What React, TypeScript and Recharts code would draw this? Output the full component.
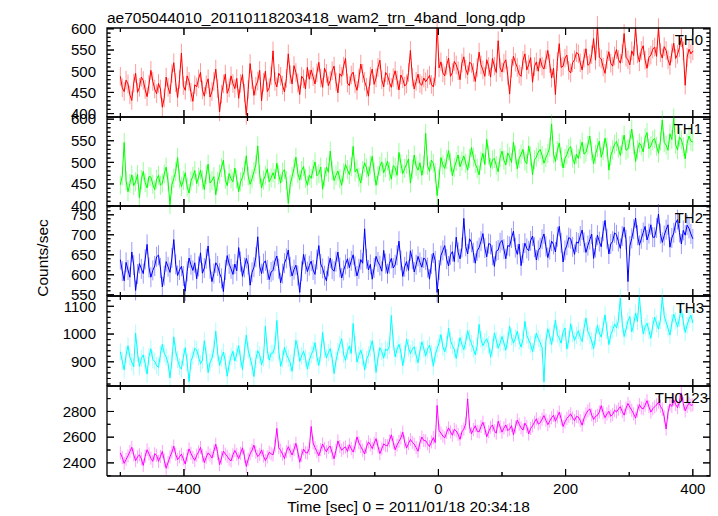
import React from 'react';
import { ComposedChart, Line, Scatter, XAxis, YAxis, ErrorBar } from 'recharts';

// ---------- data ----------
const timeSec = [
  -500, -497, -494, -491, -488, -485, -482, -479, -476, -473, -470, -467, -464, -461, -458, -455, -452, -449, -446, -443,
  -440, -437, -434, -431, -428, -425, -422, -419, -416, -413, -410, -407, -404, -401, -398, -395, -392, -389, -386, -383,
  -380, -377, -374, -371, -368, -365, -362, -359, -356, -353, -350, -347, -344, -341, -338, -335, -332, -329, -326, -323,
  -320, -317, -314, -311, -308, -305, -302, -299, -296, -293, -290, -287, -284, -281, -278, -275, -272, -269, -266, -263,
  -260, -257, -254, -251, -248, -245, -242, -239, -236, -233, -230, -227, -224, -221, -218, -215, -212, -209, -206, -203,
  -200, -197, -194, -191, -188, -185, -182, -179, -176, -173, -170, -167, -164, -161, -158, -155, -152, -149, -146, -143,
  -140, -137, -134, -131, -128, -125, -122, -119, -116, -113, -110, -107, -104, -101, -98, -95, -92, -89, -86, -83,
  -80, -77, -74, -71, -68, -65, -62, -59, -56, -53, -50, -47, -44, -41, -38, -35, -32, -29, -26, -23,
  -20, -17, -14, -11, -8, -5, -2, 1, 4, 7, 10, 13, 16, 19, 22, 25, 28, 31, 34, 37,
  40, 43, 46, 49, 52, 55, 58, 61, 64, 67, 70, 73, 76, 79, 82, 85, 88, 91, 94, 97,
  100, 103, 106, 109, 112, 115, 118, 121, 124, 127, 130, 133, 136, 139, 142, 145, 148, 151, 154, 157,
  160, 163, 166, 169, 172, 175, 178, 181, 184, 187, 190, 193, 196, 199, 202, 205, 208, 211, 214, 217,
  220, 223, 226, 229, 232, 235, 238, 241, 244, 247, 250, 253, 256, 259, 262, 265, 268, 271, 274, 277,
  280, 283, 286, 289, 292, 295, 298, 301, 304, 307, 310, 313, 316, 319, 322, 325, 328, 331, 334, 337,
  340, 343, 346, 349, 352, 355, 358, 361, 364, 367, 370, 373, 376, 379, 382, 385, 388, 391, 394, 397,
  400,
];

const th0 = [
  488, 461, 452, 479, 470, 444, 431, 472, 495, 450, 462, 486, 478, 457, 440, 469, 502, 476, 458, 447,
  471, 458, 415, 437, 486, 462, 447, 494, 520, 473, 438, 481, 543, 466, 455, 489, 476, 450, 429, 468,
  463, 482, 497, 456, 441, 468, 482, 439, 452, 476, 505, 459, 404, 446, 470, 493, 448, 461, 489, 471,
  459, 483, 436, 471, 492, 448, 396, 457, 518, 480, 443, 465, 477, 502, 430, 474, 500, 452, 461, 489,
  548, 476, 463, 495, 488, 467, 451, 483, 541, 492, 470, 513, 497, 472, 445, 488, 482, 458, 509, 481,
  503, 487, 470, 496, 521, 484, 462, 507, 495, 466, 478, 501, 512, 475, 449, 494, 488, 512, 530, 472,
  466, 491, 498, 470, 455, 483, 517, 495, 476, 462, 441, 488, 505, 469, 484, 509, 526, 480, 463, 497,
  490, 474, 462, 485, 501, 479, 456, 491, 482, 465, 470, 497, 549, 486, 458, 476, 493, 471, 467, 484,
  475, 482, 490, 469, 463, 488, 612, 508, 522, 496, 489, 514, 531, 488, 497, 523, 515, 501, 480, 519,
  534, 505, 492, 521, 518, 497, 476, 509, 545, 515, 503, 488, 527, 511, 486, 530, 512, 497, 572, 508,
  498, 519, 527, 490, 446, 507, 535, 521, 509, 493, 488, 526, 541, 503, 516, 532, 474, 511, 522, 500,
  530, 512, 505, 527, 549, 518, 484, 507, 445, 523, 565, 509, 512, 531, 538, 502, 496, 520, 527, 544,
  541, 520, 503, 531, 553, 514, 518, 539, 577, 526, 608, 533, 529, 510, 495, 527, 546, 519, 512, 536,
  551, 528, 519, 542, 589, 533, 527, 515, 548, 537, 604, 541, 522, 549, 560, 526, 507, 533, 538, 552,
  557, 535, 603, 544, 531, 558, 549, 527, 514, 543, 566, 530, 540, 556, 579, 548, 467, 533, 552, 541,
  548,
];

const th1 = [
  448, 469, 546, 458, 432, 451, 471, 446, 455, 472, 418, 460, 479, 453, 441, 467, 466, 449, 437, 461,
  470, 447, 452, 473, 489, 455, 402, 448, 463, 479, 511, 462, 444, 458, 476, 443, 429, 457, 468, 481,
  451, 466, 482, 459, 437, 471, 496, 452, 458, 467, 425, 456, 473, 488, 505, 461, 446, 474, 462, 455,
  487, 461, 432, 455, 466, 480, 515, 468, 449, 462, 478, 495, 538, 472, 441, 459, 470, 485, 455, 464,
  476, 462, 498, 471, 452, 477, 483, 458, 405, 449, 467, 486, 512, 474, 459, 481, 490, 463, 447, 470,
  463, 484, 501, 469, 474, 489, 438, 466, 489, 477, 526, 481, 458, 470, 480, 462, 447, 476, 495, 483,
  472, 490, 537, 478, 485, 466, 452, 481, 499, 487, 468, 494, 514, 478, 447, 469, 491, 501, 476, 488,
  503, 479, 461, 492, 488, 470, 523, 497, 474, 486, 496, 508, 452, 483, 517, 491, 482, 499, 470, 494,
  567, 493, 479, 505, 498, 476, 423, 462, 511, 494, 486, 507, 527, 500, 469, 488, 502, 517, 490, 503,
  515, 498, 482, 509, 534, 512, 497, 486, 471, 503, 521, 495, 553, 517, 488, 506, 509, 493, 478, 511,
  526, 505, 494, 522, 513, 500, 547, 518, 485, 509, 519, 530, 503, 497, 538, 514, 471, 506, 512, 524,
  530, 516, 498, 511, 521, 535, 589, 520, 502, 527, 545, 513, 487, 509, 518, 532, 536, 510, 496, 519,
  509, 531, 547, 519, 523, 540, 561, 526, 497, 518, 534, 549, 512, 527, 556, 535, 482, 515, 529, 542,
  548, 533, 516, 541, 563, 528, 531, 552, 577, 540, 502, 529, 545, 538, 524, 557, 569, 532, 538, 551,
  555, 537, 521, 549, 598, 546, 540, 528, 566, 553, 603, 541, 529, 559, 552, 536, 508, 544, 561, 549,
  547,
];

const th2 = [
  638, 609, 585, 631, 612, 594, 657, 624, 561, 602, 628, 615, 603, 639, 676, 618, 594, 611, 622, 645,
  649, 617, 570, 598, 633, 620, 606, 642, 688, 626, 598, 612, 621, 597, 559, 609, 642, 625, 611, 630,
  590, 621, 655, 604, 617, 640, 672, 615, 583, 603, 630, 622, 604, 591, 558, 612, 648, 627, 615, 601,
  627, 610, 668, 633, 596, 618, 641, 625, 574, 606, 619, 644, 695, 622, 603, 628, 635, 612, 588, 607,
  611, 634, 647, 615, 580, 603, 629, 641, 662, 620, 597, 613, 624, 598, 556, 609, 651, 627, 608, 623,
  634, 612, 601, 638, 673, 627, 616, 598, 585, 621, 642, 614, 609, 633, 657, 618, 592, 611, 626, 640,
  618, 635, 650, 621, 597, 615, 638, 629, 715, 640, 612, 626, 589, 617, 646, 632, 623, 609, 661, 628,
  603, 628, 641, 617, 625, 649, 684, 636, 596, 620, 633, 611, 660, 639, 607, 625, 646, 631, 619, 642,
  637, 618, 589, 627, 654, 635, 556, 612, 648, 661, 673, 639, 622, 650, 658, 633, 694, 656, 640, 668,
  741, 671, 652, 690, 681, 655, 629, 660, 668, 684, 703, 667, 645, 678, 676, 649, 621, 659, 662, 680,
  686, 664, 640, 673, 671, 692, 709, 668, 651, 677, 623, 654, 679, 666, 660, 685, 697, 669, 637, 661,
  668, 689, 702, 671, 643, 663, 684, 676, 657, 695, 721, 680, 632, 661, 674, 693, 690, 670, 651, 682,
  679, 697, 712, 681, 656, 673, 688, 702, 641, 668, 699, 683, 670, 709, 736, 690, 652, 677, 684, 705,
  700, 683, 666, 697, 719, 688, 583, 672, 691, 714, 742, 699, 674, 690, 706, 721, 687, 703, 725, 694,
  694, 717, 752, 703, 681, 698, 713, 725, 669, 692, 705, 729, 738, 706, 677, 711, 699, 724, 716, 702,
  690,
];

const th3 = [
  936, 903, 871, 924, 958, 917, 899, 882, 1003, 931, 884, 912, 925, 893, 856, 919, 947, 908, 902, 886,
  880, 927, 963, 931, 917, 894, 842, 905, 990, 938, 908, 883, 874, 916, 951, 899, 829, 902, 921, 948,
  944, 917, 893, 906, 976, 925, 861, 898, 912, 947, 1010, 931, 887, 914, 935, 902, 848, 890, 919, 938,
  903, 929, 958, 910, 872, 936, 996, 941, 915, 887, 847, 909, 940, 925, 889, 913, 1028, 942, 906, 931,
  931, 957, 1049, 940, 884, 911, 952, 928, 913, 896, 866, 920, 977, 949, 901, 922, 938, 913, 874, 905,
  925, 941, 969, 918, 887, 929, 1006, 945, 914, 933, 948, 912, 858, 904, 937, 961, 983, 927, 905, 938,
  957, 930, 1038, 961, 899, 923, 942, 917, 871, 908, 925, 949, 976, 931, 862, 914, 951, 937, 913, 946,
  940, 958, 1067, 972, 918, 945, 963, 936, 886, 927, 982, 951, 929, 946, 954, 923, 897, 939, 972, 948,
  921, 946, 960, 931, 884, 925, 947, 968, 998, 954, 936, 962, 1021, 977, 959, 944, 912, 951, 987, 963,
  944, 972, 1012, 985, 966, 947, 925, 958, 1035, 981, 958, 973, 983, 962, 917, 950, 1004, 978, 949, 967,
  991, 968, 942, 979, 1028, 990, 967, 985, 1010, 974, 953, 981, 1046, 996, 978, 962, 936, 970, 1003, 984,
  969, 951, 827, 975, 1019, 993, 962, 1004, 1051, 998, 985, 967, 1008, 1022, 946, 980, 1037, 1001, 977, 995,
  1012, 988, 973, 1021, 1058, 1009, 994, 975, 946, 992, 1031, 1003, 989, 1027, 1069, 1014, 962, 998, 1015, 1036,
  1022, 1049, 1130, 1038, 991, 1017, 1047, 1063, 1008, 1034, 1076, 1045, 1136, 1052, 1001, 1026, 1039, 1012, 985, 1030,
  1061, 1037, 1018, 1050, 1134, 1066, 1043, 1021, 996, 1039, 1072, 1048, 1025, 1057, 1089, 1044, 1006, 1032, 1054, 1068,
  1040,
];

const th0123 = [
  2478, 2441, 2396, 2427, 2455, 2489, 2521, 2463, 2417, 2446, 2463, 2432, 2380, 2451, 2502, 2470, 2436, 2412, 2471, 2459,
  2412, 2450, 2489, 2421, 2358, 2404, 2447, 2483, 2530, 2466, 2425, 2447, 2468, 2430, 2391, 2455, 2509, 2474, 2443, 2419,
  2459, 2486, 2520, 2457, 2402, 2444, 2478, 2461, 2437, 2492, 2545, 2473, 2386, 2438, 2491, 2469, 2452, 2428, 2415, 2463,
  2496, 2467, 2433, 2474, 2517, 2452, 2372, 2429, 2470, 2498, 2538, 2481, 2449, 2466, 2501, 2453, 2418, 2447, 2483, 2471,
  2462, 2530, 2668, 2519, 2497, 2468, 2434, 2487, 2526, 2492, 2461, 2503, 2552, 2485, 2405, 2459, 2508, 2481, 2476, 2512,
  2683, 2556, 2519, 2488, 2455, 2503, 2547, 2512, 2486, 2519, 2530, 2477, 2432, 2498, 2571, 2527, 2498, 2515, 2524, 2489,
  2541, 2510, 2484, 2532, 2602, 2556, 2527, 2498, 2469, 2524, 2563, 2540, 2511, 2553, 2589, 2528, 2472, 2509, 2548, 2535,
  2533, 2571, 2618, 2559, 2502, 2538, 2567, 2594, 2639, 2562, 2515, 2551, 2582, 2560, 2546, 2519, 2490, 2557, 2601, 2574,
  2572, 2549, 2527, 2563, 2596, 2558, 2847, 2652, 2631, 2609, 2594, 2637, 2672, 2641, 2615, 2660, 2648, 2622, 2583, 2641,
  2662, 2705, 2898, 2681, 2627, 2659, 2689, 2646, 2641, 2683, 2716, 2667, 2603, 2642, 2677, 2695, 2650, 2631, 2724, 2680,
  2639, 2671, 2695, 2652, 2661, 2690, 2618, 2679, 2734, 2701, 2672, 2655, 2709, 2683, 2625, 2668, 2688, 2717, 2743, 2702,
  2712, 2740, 2768, 2731, 2697, 2725, 2751, 2770, 2724, 2758, 2795, 2742, 2683, 2719, 2746, 2763, 2782, 2750, 2729, 2761,
  2757, 2729, 2693, 2748, 2781, 2805, 2820, 2773, 2738, 2762, 2769, 2796, 2845, 2790, 2752, 2781, 2801, 2763, 2776, 2809,
  2796, 2818, 2837, 2800, 2771, 2826, 2862, 2834, 2809, 2781, 2748, 2805, 2853, 2827, 2820, 2849, 2884, 2836, 2795, 2821,
  2836, 2851, 2872, 2840, 2818, 2759, 2663, 2792, 2857, 2839, 2891, 2854, 2830, 2876, 2944, 2861, 2805, 2838, 2865, 2847,
  2852,
];

const seriesNames = ['TH0', 'TH1', 'TH2', 'TH3', 'TH0123'];
const seriesValues = [th0, th1, th2, th3, th0123];
const rateErrors = [22, 22, 25, 31, 51];

const xMajorTicks = [-400, -200, 0, 200, 400];
const xMinorTicks = [-500, -300, -100, 100, 300];

const yLabels0 = [400, 450, 500, 550, 600];
const yLabels1 = [400, 450, 500, 550, 600];
const yLabels2 = [550, 600, 650, 700, 750];
const yLabels3 = [900, 1000, 1100];
const yLabels4 = [2400, 2600, 2800];
const yLabelSets = [yLabels0, yLabels1, yLabels2, yLabels3, yLabels4];

const titleText = 'ae705044010_20110118203418_wam2_trn_4band_long.qdp';
const yTitle = 'Counts/sec';
const xTitle = 'Time [sec] 0 = 2011/01/18 20:34:18';

// ---------- layout / style ----------
const W = 718;
const H = 516;
const PLOT_LEFT = 107;
const PLOT_RIGHT = 710;
const panelEdges = [28, 117, 206, 296, 386, 476];
const xDomain: [number, number] = [-521, 427];
const yDomains: [number, number][] = [
  [392, 602],
  [399, 605],
  [547, 772],
  [813, 1137],
  [2298, 2998],
];
const minorSteps = [
  { from: 400, to: 600, step: 10 },
  { from: 400, to: 600, step: 10 },
  { from: 550, to: 770, step: 10 },
  { from: 820, to: 1120, step: 20 },
  { from: 2300, to: 2900, step: 100 },
];
const lineColors = ['#ff0000', '#00ff00', '#0000ff', '#00ffff', '#ff00ff'];
const errColors = ['#ff9a9a', '#9aff9a', '#9a9aff', '#a8ffff', '#ffa0ff'];
const labelRightX = [703, 702, 703, 704, 708];
const FONT = '"Liberation Sans", Arial, Helvetica, sans-serif';
const THIN = 0.01;
// sizes of the hidden twin axes; the label axes are pushed outward by these amounts
const TWIN_Y_W = 60;
const TWIN_X_H = 30;

const range = (a: number, b: number, s: number) => {
  const out: number[] = [];
  for (let v = a; v <= b + 1e-9; v += s) out.push(v);
  return out;
};

const fmt = (v: number) => (v < 0 ? '\u2212' + Math.abs(v) : String(v));

const NoTick = () => <g />;

const XLabel = (props: any) => {
  const { x, y, payload } = props;
  return (
    <text x={x} y={y - TWIN_X_H + 18} textAnchor="middle" fontSize={15} fontFamily={FONT} fill="#000">
      {fmt(payload.value)}
    </text>
  );
};

const YLabel = (props: any) => {
  const { x, y, payload } = props;
  return (
    <text x={x + TWIN_Y_W - 11} y={y + 5.3} textAnchor="end" fontSize={15} fontFamily={FONT} fill="#000">
      {payload.value}
    </text>
  );
};

// inward tick mark drawn at a point placed by the chart's scales
const tickPath = (p: any) => {
  const cx = Number(p.cx);
  const cy = Number(p.cy);
  const side = p.payload?.side;
  const len = p.payload?.major ? 7 : side === 'b' || side === 't' ? 4 : 3.5;
  if (side === 'b') return `M${cx},${cy}L${cx},${cy - len}`;
  if (side === 't') return `M${cx},${cy}L${cx},${cy + len}`;
  if (side === 'l') return `M${cx},${cy}L${cx + len},${cy}`;
  return `M${cx},${cy}L${cx - len},${cy}`;
};

const tickDot = (p: any) => (
  <path key={`tk-${p.index}`} d={tickPath(p)} stroke="#000" strokeWidth={1} fill="none" />
);

const Panel = ({ k }: { k: number }) => {
  const top = panelEdges[k];
  const h = panelEdges[k + 1] - top;
  const vals = seriesValues[k];
  const rows = timeSec.map((t, i) => ({ t, v: vals[i], e: rateErrors[k] }));
  const ms = minorSteps[k];
  const labels = yLabelSets[k];
  const yAll = range(ms.from, ms.to, ms.step);
  const yd = yDomains[k];
  const xAll = [...xMinorTicks, ...xMajorTicks];
  const tickRows = [
    ...xAll.map((v) => ({ t: v, y: yd[0], side: 'b', major: xMajorTicks.includes(v) })),
    ...xAll.map((v) => ({ t: v, y: yd[1], side: 't', major: xMajorTicks.includes(v) })),
    ...yAll.map((v) => ({ t: xDomain[0], y: v, side: 'l', major: labels.includes(v) })),
    ...yAll.map((v) => ({ t: xDomain[1], y: v, side: 'r', major: labels.includes(v) })),
  ];
  const frameRows = [
    { t: xDomain[0], y: yd[0] },
    { t: xDomain[1], y: yd[0] },
    { t: xDomain[1], y: yd[1] },
    { t: xDomain[0], y: yd[1] },
    { t: xDomain[0], y: yd[0] },
  ];
  return (
    <div style={{ position: 'absolute', left: 0, top, width: W, height: h }}>
      <ComposedChart width={W} height={h} data={rows} margin={{ top: 0, right: W - PLOT_RIGHT, bottom: 0, left: 0 }}>
        <XAxis
          xAxisId="lab"
          dataKey="t"
          type="number"
          domain={xDomain}
          allowDataOverflow
          interval={0}
          ticks={xMajorTicks}
          height={THIN}
          tickSize={0}
          tickMargin={0}
          axisLine={false}
          tickLine={false}
          tick={k === 4 ? <XLabel /> : <NoTick />}
        />
        <YAxis
          yAxisId="lab"
          type="number"
          domain={yd}
          allowDataOverflow
          interval={0}
          ticks={labels}
          width={PLOT_LEFT}
          tickSize={0}
          tickMargin={0}
          axisLine={false}
          tickLine={false}
          tick={<YLabel />}
        />
        {/* unclipped twin axes (hidden) for the frame and the tick marks */}
        <XAxis xAxisId="fx" dataKey="t" type="number" domain={xDomain} height={TWIN_X_H} hide />
        <YAxis yAxisId="fy" type="number" domain={yd} width={TWIN_Y_W} hide />
        <Line
          xAxisId="lab"
          yAxisId="lab"
          dataKey="v"
          stroke="transparent"
          strokeOpacity={0}
          strokeWidth={0}
          dot={false}
          activeDot={false}
          isAnimationActive={false}
        >
          <ErrorBar dataKey="e" width={0} stroke={errColors[k]} strokeWidth={1} direction="y" isAnimationActive={false} />
        </Line>
        <Line
          xAxisId="lab"
          yAxisId="lab"
          dataKey="v"
          type="linear"
          stroke={lineColors[k]}
          strokeWidth={1}
          dot={false}
          activeDot={false}
          isAnimationActive={false}
        />
        <Line
          xAxisId="fx"
          yAxisId="fy"
          data={frameRows}
          dataKey="y"
          type="linear"
          stroke="#000"
          strokeWidth={1.3}
          dot={false}
          activeDot={false}
          isAnimationActive={false}
        />
        <Line
          xAxisId="fx"
          yAxisId="fy"
          data={tickRows}
          dataKey="y"
          type="linear"
          stroke="transparent"
          strokeOpacity={0}
          strokeWidth={0}
          dot={tickDot}
          activeDot={false}
          isAnimationActive={false}
        />
        <Scatter
          xAxisId="fx"
          yAxisId="fy"
          data={tickRows}
          dataKey="y"
          shape={(p: any) => <path d={tickPath(p)} stroke="#000" strokeWidth={1} fill="none" />}
          isAnimationActive={false}
        />
      </ComposedChart>
    </div>
  );
};

export default function App() {
  return (
    <div
      style={{
        position: 'absolute',
        left: 0,
        top: 0,
        width: W,
        height: H,
        background: '#fff',
        overflow: 'hidden',
        fontFamily: FONT,
      }}
    >
      <style>{`.recharts-surface{overflow:visible}`}</style>
      {[0, 1, 2, 3, 4].map((k) => (
        <Panel key={k} k={k} />
      ))}
      <svg
        width={W}
        height={H}
        style={{ position: 'absolute', left: 0, top: 0, pointerEvents: 'none' }}
      >
        <text x={PLOT_LEFT} y={22.5} fontSize={15.5} fontFamily={FONT} fill="#000">
          {titleText}
        </text>
        <text
          x={0}
          y={0}
          transform={`translate(47.5, 258) rotate(-90)`}
          textAnchor="middle"
          fontSize={15.5}
          fontFamily={FONT}
          fill="#000"
        >
          {yTitle}
        </text>
        <text x={(PLOT_LEFT + PLOT_RIGHT) / 2} y={512} textAnchor="middle" fontSize={15.5} fontFamily={FONT} fill="#000">
          {xTitle}
        </text>
        {seriesNames.map((n, k) => (
          <text
            key={n}
            x={labelRightX[k]}
            y={panelEdges[k] + 16.5}
            textAnchor="end"
            fontSize={15}
            fontFamily={FONT}
            fill="#000"
          >
            {n}
          </text>
        ))}
      </svg>
    </div>
  );
}
